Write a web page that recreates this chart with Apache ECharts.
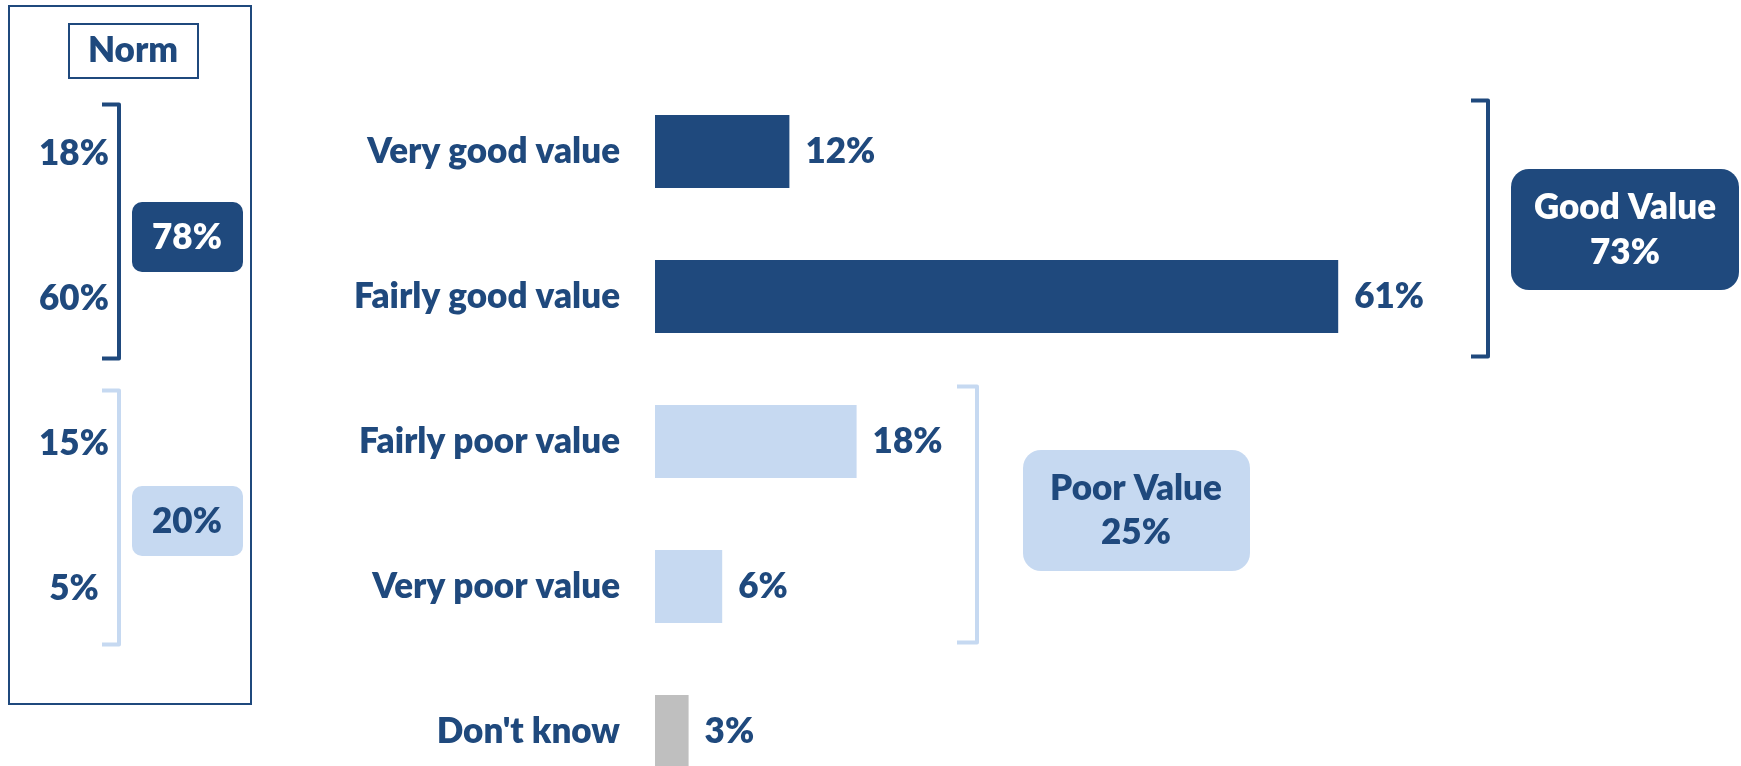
<!DOCTYPE html>
<html>
<head>
<meta charset="utf-8">
<script src="https://cdn.jsdelivr.net/npm/echarts@6/dist/echarts.min.js"></script>
<style>
    html, body { margin: 0; padding: 0; background: #fff; overflow: hidden; }
    #wrap { width: 1741px; height: 766px; overflow: hidden; }
    /* the last row runs off the bottom edge, so the canvas is taller than the view */
    #chart { width: 1741px; height: 804px; }
</style>
</head>
<body>
<div id="wrap"><div id="chart"></div></div>
<script>
// Data
const categories = ['Very good value', 'Fairly good value', 'Fairly poor value', 'Very poor value', "Don't know"];
const values = [12, 61, 18, 6, 3];
const normValues = [18, 60, 15, 5];
const normNets = [78, 20];
const netLabels = ['Good Value', 'Poor Value'];
const netValues = [73, 25];

const DARK = '#1F497D';
const LIGHT = '#C6D9F1';
const GREY = '#BFBFBF';
const barColors = [DARK, DARK, LIGHT, LIGHT, GREY];
const FONT = "Lato, 'Noto Sans', sans-serif";
const SIZE = 35;
const WEIGHT = 800;

const chart = echarts.init(document.getElementById('chart'));

chart.setOption({
    animation: false,
    textStyle: { fontFamily: FONT },
    grid: { left: 655, top: 79, right: 78, bottom: 0, outerBoundsMode: 'none' },
    xAxis: {
        type: 'value', min: 0, max: 90,
        show: false
    },
    yAxis: {
        type: 'category',
        inverse: true,
        data: categories,
        axisLine: { show: false },
        axisTick: { show: false },
        axisLabel: {
            margin: 35,
            color: DARK,
            fontFamily: FONT,
            fontWeight: WEIGHT,
            fontSize: SIZE
        }
    },
    series: [{
        type: 'bar',
        barWidth: 73,
        data: values.map((v, i) => ({ value: v, itemStyle: { color: barColors[i] } })),
        label: {
            show: true,
            position: 'right',
            distance: 16,
            formatter: '{c}%',
            color: DARK,
            fontFamily: FONT,
            fontWeight: WEIGHT,
            fontSize: SIZE
        }
    }]
});

// Annotations placed relative to the category rows
const rowY = categories.map(c => chart.convertToPixel({ yAxisIndex: 0 }, c));
const font = (size) => `${WEIGHT} ${size}px ${FONT}`;

function bracket(x, top, bottom, color, serif) {
    return {
        type: 'polyline',
        shape: { points: [[x - serif, top], [x, top], [x, bottom], [x - serif, bottom]] },
        style: { stroke: color, lineWidth: 4, fill: null, lineJoin: 'round' },
        z: 10
    };
}
function box(x, y, w, h, r, fill) {
    return { type: 'rect', shape: { x: x, y: y, width: w, height: h, r: r }, style: { fill: fill }, z: 10 };
}
function text(str, x, y, color, size) {
    return {
        type: 'text', z: 11,
        style: { text: str, x: x, y: y, fill: color, font: font(size), align: 'center', verticalAlign: 'middle' }
    };
}

const graphics = [];

// Norm panel
graphics.push({ type: 'rect', shape: { x: 9, y: 6, width: 242, height: 698 }, style: { fill: null, stroke: DARK, lineWidth: 2 }, z: 5 });
graphics.push({ type: 'rect', shape: { x: 69, y: 24, width: 129, height: 54 }, style: { fill: '#fff', stroke: DARK, lineWidth: 2 }, z: 5 });
graphics.push(text('Norm', 133, 51, DARK, SIZE));
normValues.forEach((v, i) => graphics.push(text(v + '%', 74, rowY[i] + 2, DARK, SIZE)));
graphics.push(bracket(119, rowY[0] - 47, rowY[1] + 62, DARK, 17));
graphics.push(bracket(119, rowY[2] - 51, rowY[3] + 58, LIGHT, 17));
graphics.push(box(132, 202, 111, 70, 10, DARK));
graphics.push(text(normNets[0] + '%', 187, 238, '#fff', SIZE));
graphics.push(box(132, 486, 111, 70, 10, LIGHT));
graphics.push(text(normNets[1] + '%', 187, 522, DARK, SIZE));

// Good value net
graphics.push(bracket(1488, rowY[0] - 51, rowY[1] + 60, DARK, 17));
graphics.push(box(1511, 169, 228, 121, 18, DARK));
graphics.push(text(netLabels[0], 1625, 208, '#fff', SIZE));
graphics.push(text(netValues[0] + '%', 1625, 253, '#fff', SIZE));

// Poor value net
graphics.push(bracket(977, rowY[2] - 55, rowY[3] + 56, LIGHT, 20));
graphics.push(box(1023, 450, 227, 121, 18, LIGHT));
graphics.push(text(netLabels[1], 1136, 489, DARK, SIZE));
graphics.push(text(netValues[1] + '%', 1136, 533, DARK, SIZE));

chart.setOption({ graphic: graphics });
</script>
</body>
</html>
